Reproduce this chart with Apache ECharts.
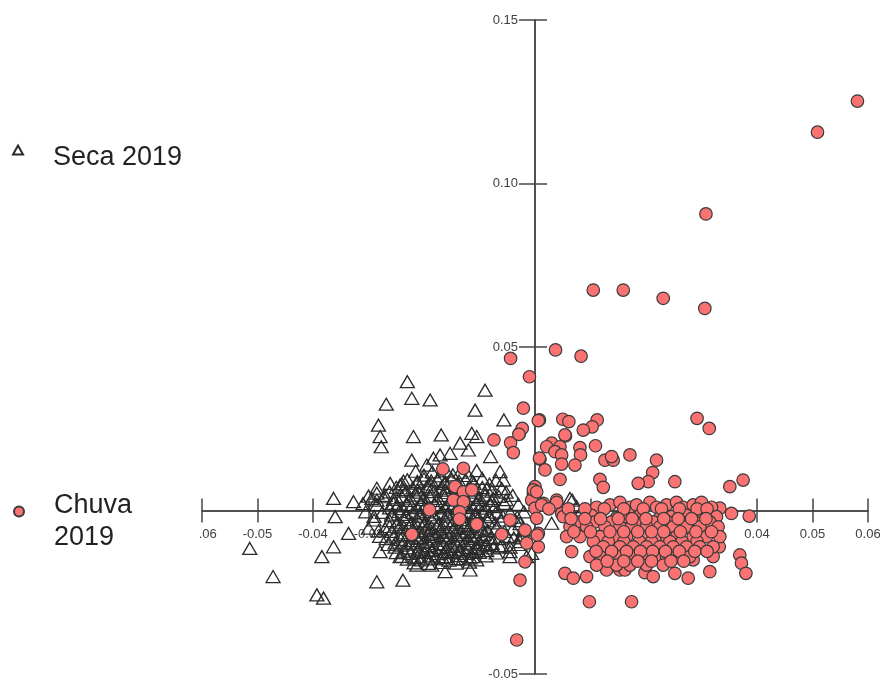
<!DOCTYPE html>
<html>
<head>
<meta charset="utf-8">
<script src="https://cdn.jsdelivr.net/npm/echarts@6/dist/echarts.min.js"></script>
<style>
  html, body { margin: 0; padding: 0; background: #fff; }
  #chart { width: 880px; height: 681px; }
</style>
</head>
<body>
<div id="chart"></div>
<script>
// Axis ranges and tick steps
const xRange = [-0.06, 0.06];
const xStep = 0.01;
const yRange = [-0.05, 0.15];
const yStep = 0.05;

const seriesNames = ['Seca 2019', 'Chuva 2019'];

// Seca 2019: scattered points around the main group
const secaOuter = [
  [-0.0230,0.0394],[-0.0222,0.0343],[-0.0189,0.0338],[-0.0268,0.0325],[-0.0090,0.0368],
  [-0.0108,0.0307],[-0.0056,0.0277],[-0.0282,0.0261],[-0.0279,0.0226],[-0.0277,0.0195],
  [-0.0219,0.0226],[-0.0169,0.0231],[-0.0114,0.0236],[-0.0105,0.0226],[-0.0135,0.0206],
  [-0.0120,0.0185],[-0.0222,0.0154],[-0.0080,0.0165],[-0.0063,0.0119],[-0.0057,0.0093],
  [-0.0183,0.0160],[-0.0171,0.0170],[-0.0153,0.0175],[-0.0195,0.0139],
  [-0.0363,0.0037],[-0.0360,-0.0019],[-0.0327,0.0027],[-0.0384,-0.0141],[-0.0363,-0.0111],
  [-0.0393,-0.0258],[-0.0381,-0.0268],[-0.0336,-0.0070],[-0.0285,-0.0218],[-0.0238,-0.0213],
  [-0.0279,-0.0126],[-0.0243,-0.0141],[-0.0213,-0.0167],[-0.0186,-0.0167],[-0.0162,-0.0187],
  [-0.0117,-0.0182],[-0.0105,-0.0116],[-0.0087,-0.0106],[-0.0063,-0.0111],[-0.0045,-0.0126],
  [-0.0024,-0.0075],[-0.0015,-0.0141],[-0.0006,-0.0131],[-0.0514,-0.0116],[-0.0472,-0.0202],
  [-0.0294,0.0037],[-0.0285,0.0053],[-0.0273,0.0042],[-0.0261,0.0083],[-0.0243,0.0078],
  [0.0063,0.0037],[0.0075,0.0012],[0.0081,-0.0009],[0.0030,-0.0039],[-0.0027,-0.0040],
  [-0.0009,-0.0081],[0.0067,0.0032],[-0.0045,-0.0141],[-0.0021,-0.0060],[-0.0027,-0.0095]
];

// Seca 2019: dense central group
const secaCore = [
  [-0.0215,0.0120],[-0.0185,0.0118],[-0.0160,0.0121],[-0.0135,0.0117],[-0.0105,0.0122],
  [-0.0230,0.0094],[-0.0200,0.0097],[-0.0175,0.0093],[-0.0150,0.0096],[-0.0125,0.0094],[-0.0095,0.0098],[-0.0070,0.0092],
  [-0.0285,0.0068],[-0.0250,0.0071],[-0.0220,0.0069],[-0.0195,0.0072],[-0.0170,0.0068],[-0.0145,0.0071],[-0.0120,0.0069],[-0.0095,0.0070],[-0.0060,0.0067],
  [-0.0300,0.0044],[-0.0270,0.0046],[-0.0240,0.0043],[-0.0215,0.0047],[-0.0190,0.0044],[-0.0165,0.0046],[-0.0140,0.0043],[-0.0115,0.0045],[-0.0090,0.0047],[-0.0065,0.0043],[-0.0040,0.0046],
  [-0.0310,0.0021],[-0.0285,0.0018],[-0.0255,0.0022],[-0.0230,0.0019],[-0.0205,0.0021],[-0.0180,0.0018],[-0.0155,0.0022],[-0.0130,0.0019],[-0.0105,0.0021],[-0.0080,0.0018],[-0.0055,0.0022],[-0.0030,0.0019],
  [-0.0262,0.0008],[-0.0238,0.0006],[-0.0212,0.0009],[-0.0188,0.0007],[-0.0162,0.0008],[-0.0138,0.0006],[-0.0112,0.0009],[-0.0088,0.0007],
  [-0.0305,-0.0004],[-0.0275,-0.0006],[-0.0245,-0.0003],[-0.0220,-0.0006],[-0.0195,-0.0004],[-0.0170,-0.0007],[-0.0145,-0.0004],[-0.0120,-0.0006],[-0.0095,-0.0003],[-0.0070,-0.0005],[-0.0045,-0.0007],[-0.0020,-0.0004],
  [-0.0290,-0.0029],[-0.0262,-0.0031],[-0.0235,-0.0028],[-0.0210,-0.0032],[-0.0185,-0.0029],[-0.0160,-0.0031],[-0.0135,-0.0028],[-0.0110,-0.0030],[-0.0085,-0.0032],[-0.0060,-0.0029],[-0.0035,-0.0031],
  [-0.0250,-0.0042],[-0.0225,-0.0044],[-0.0200,-0.0041],[-0.0175,-0.0043],[-0.0150,-0.0042],[-0.0125,-0.0044],[-0.0100,-0.0041],
  [-0.0300,-0.0054],[-0.0270,-0.0056],[-0.0245,-0.0053],[-0.0220,-0.0057],[-0.0195,-0.0054],[-0.0170,-0.0056],[-0.0145,-0.0053],[-0.0120,-0.0055],[-0.0095,-0.0057],[-0.0070,-0.0054],[-0.0040,-0.0056],
  [-0.0235,-0.0068],[-0.0210,-0.0066],[-0.0185,-0.0069],[-0.0160,-0.0067],[-0.0135,-0.0068],[-0.0110,-0.0066],
  [-0.0280,-0.0079],[-0.0255,-0.0081],[-0.0230,-0.0078],[-0.0205,-0.0082],[-0.0180,-0.0079],[-0.0155,-0.0081],[-0.0130,-0.0078],[-0.0105,-0.0080],[-0.0080,-0.0082],[-0.0050,-0.0079],[-0.0025,-0.0081],
  [-0.0220,-0.0092],[-0.0195,-0.0094],[-0.0170,-0.0091],[-0.0145,-0.0093],[-0.0120,-0.0092],
  [-0.0265,-0.0104],[-0.0240,-0.0106],[-0.0215,-0.0103],[-0.0190,-0.0107],[-0.0165,-0.0104],[-0.0140,-0.0106],[-0.0115,-0.0103],[-0.0090,-0.0105],[-0.0060,-0.0107],[-0.0030,-0.0104],
  [-0.0210,-0.0118],[-0.0185,-0.0120],[-0.0160,-0.0117],[-0.0135,-0.0119],
  [-0.0250,-0.0129],[-0.0225,-0.0131],[-0.0200,-0.0128],[-0.0175,-0.0132],[-0.0150,-0.0129],[-0.0125,-0.0131],[-0.0100,-0.0128],[-0.0070,-0.0130],
  [-0.0230,-0.0149],[-0.0205,-0.0151],[-0.0180,-0.0148],[-0.0155,-0.0152],[-0.0130,-0.0149],[-0.0105,-0.0151]
];

// Seca 2019: further points packed inside the central group
const secaInner = [
  [-0.0200,0.0108],[-0.0172,0.0106],[-0.0148,0.0109],[-0.0120,0.0107],
  [-0.0240,0.0082],[-0.0212,0.0084],[-0.0188,0.0081],[-0.0162,0.0083],[-0.0138,0.0080],[-0.0110,0.0083],[-0.0082,0.0081],
  [-0.0262,0.0057],[-0.0232,0.0059],[-0.0208,0.0056],[-0.0182,0.0058],[-0.0158,0.0055],[-0.0132,0.0058],[-0.0108,0.0056],[-0.0078,0.0059],[-0.0052,0.0056],
  [-0.0285,0.0032],[-0.0255,0.0034],[-0.0228,0.0031],[-0.0202,0.0033],[-0.0178,0.0030],[-0.0152,0.0033],[-0.0128,0.0031],[-0.0102,0.0034],[-0.0078,0.0031],[-0.0052,0.0033],
  [-0.0290,-0.0018],[-0.0258,-0.0016],[-0.0232,-0.0019],[-0.0208,-0.0017],[-0.0182,-0.0020],[-0.0158,-0.0017],[-0.0132,-0.0019],[-0.0108,-0.0016],[-0.0082,-0.0019],[-0.0058,-0.0017],[-0.0032,-0.0020],
  [-0.0282,-0.0062],[-0.0258,-0.0064],[-0.0198,-0.0061],[-0.0172,-0.0063],[-0.0148,-0.0060],[-0.0122,-0.0063],[-0.0085,-0.0061],[-0.0055,-0.0064],
  [-0.0268,-0.0086],[-0.0242,-0.0088],[-0.0212,-0.0085],[-0.0188,-0.0087],[-0.0162,-0.0084],[-0.0138,-0.0087],[-0.0112,-0.0085],[-0.0092,-0.0088],[-0.0065,-0.0086],[-0.0038,-0.0084],
  [-0.0252,-0.0112],[-0.0228,-0.0114],[-0.0198,-0.0111],[-0.0172,-0.0113],[-0.0148,-0.0110],[-0.0122,-0.0113],[-0.0102,-0.0111],[-0.0075,-0.0114],[-0.0045,-0.0112],
  [-0.0240,-0.0140],[-0.0212,-0.0142],[-0.0188,-0.0139],[-0.0162,-0.0141],[-0.0138,-0.0138],[-0.0112,-0.0141],[-0.0088,-0.0139],
  [-0.0218,-0.0160],[-0.0192,-0.0162],[-0.0168,-0.0159],[-0.0142,-0.0161],[-0.0118,-0.0158]
];

// Seca 2019: the darkest, most crowded part of the group
const secaDense = [
  [-0.0237,0.0090],[-0.0212,0.0089],[-0.0187,0.0091],[-0.0162,0.0088],[-0.0137,0.0090],[-0.0112,0.0089],
  [-0.0237,0.0064],[-0.0212,0.0063],[-0.0187,0.0065],[-0.0162,0.0062],[-0.0137,0.0064],[-0.0112,0.0063],[-0.0087,0.0065],
  [-0.0250,0.0039],[-0.0225,0.0038],[-0.0200,0.0040],[-0.0175,0.0037],[-0.0150,0.0039],[-0.0125,0.0038],[-0.0100,0.0040],[-0.0075,0.0037],
  [-0.0248,0.0014],[-0.0222,0.0013],[-0.0197,0.0015],[-0.0172,0.0012],[-0.0147,0.0014],[-0.0122,0.0013],[-0.0097,0.0015],[-0.0072,0.0012],
  [-0.0258,-0.0011],[-0.0233,-0.0012],[-0.0208,-0.0010],[-0.0183,-0.0013],[-0.0158,-0.0011],[-0.0133,-0.0012],[-0.0108,-0.0010],[-0.0083,-0.0013],
  [-0.0247,-0.0036],[-0.0222,-0.0037],[-0.0197,-0.0035],[-0.0172,-0.0038],[-0.0147,-0.0036],[-0.0122,-0.0037],[-0.0097,-0.0035],[-0.0072,-0.0038],
  [-0.0262,-0.0049],[-0.0237,-0.0050],[-0.0212,-0.0048],[-0.0187,-0.0051],[-0.0162,-0.0049],[-0.0137,-0.0050],[-0.0112,-0.0048],
  [-0.0242,-0.0074],[-0.0217,-0.0075],[-0.0192,-0.0073],[-0.0167,-0.0076],[-0.0142,-0.0074],[-0.0117,-0.0075],[-0.0092,-0.0073],
  [-0.0252,-0.0099],[-0.0227,-0.0100],[-0.0202,-0.0098],[-0.0177,-0.0101],[-0.0152,-0.0099],[-0.0127,-0.0100],[-0.0102,-0.0098],[-0.0077,-0.0101],
  [-0.0237,-0.0124],[-0.0212,-0.0125],[-0.0187,-0.0123],[-0.0162,-0.0126],[-0.0137,-0.0124],[-0.0112,-0.0125],[-0.0087,-0.0123],
  [-0.0217,-0.0145],[-0.0192,-0.0146],[-0.0167,-0.0144],[-0.0142,-0.0147],[-0.0117,-0.0145]
];

// Chuva 2019: upper and scattered points
const chuvaOuter = [
  [0.0581,0.1252],[0.0509,0.1157],[0.0308,0.0907],[0.0105,0.0674],[0.0159,0.0674],
  [0.0231,0.0649],[0.0306,0.0618],[0.0037,0.0491],[0.0083,0.0472],[-0.0044,0.0465],
  [-0.0010,0.0409],[-0.0021,0.0313],[0.0292,0.0282],[0.0314,0.0251],[0.0008,0.0277],
  [0.0050,0.0279],[0.0061,0.0272],[0.0112,0.0277],[0.0103,0.0256],[0.0087,0.0246],
  [0.0055,0.0228],[-0.0074,0.0216],[-0.0028,0.0236],[-0.0023,0.0251],[-0.0044,0.0207],
  [-0.0039,0.0177],[0.0109,0.0198],[0.0081,0.0192],[0.0030,0.0206],[0.0021,0.0195],
  [0.0045,0.0195],[0.0054,0.0231],[0.0036,0.0180],[0.0048,0.0170],[0.0082,0.0170],
  [0.0009,0.0157],[0.0018,0.0124],[0.0048,0.0142],[0.0072,0.0139],[0.0126,0.0154],
  [0.0141,0.0154],[0.0138,0.0165],[0.0171,0.0170],[0.0219,0.0154],[0.0212,0.0116],
  [0.0204,0.0088],[0.0186,0.0083],[0.0252,0.0088],[0.0117,0.0095],[0.0123,0.0071],
  [0.0045,0.0095],[0.0000,0.0073],[-0.0003,0.0053],[-0.0006,0.0032],[0.0351,0.0073],
  [0.0375,0.0093],[0.0015,0.0022],[0.0039,0.0032],[0.0048,-0.0009],[0.0354,-0.0009],
  [0.0386,-0.0017],[0.0333,0.0007],[0.0006,-0.0111],[-0.0018,-0.0157],[-0.0027,-0.0213],
  [0.0066,-0.0126],[0.0054,-0.0192],[0.0069,-0.0207],[0.0093,-0.0202],[0.0129,-0.0182],
  [0.0153,-0.0182],[0.0162,-0.0182],[0.0198,-0.0190],[0.0213,-0.0202],[0.0252,-0.0192],
  [0.0276,-0.0207],[0.0315,-0.0187],[0.0285,-0.0151],[0.0369,-0.0136],[0.0372,-0.0161],
  [0.0380,-0.0192],[0.0332,-0.0111],[0.0321,-0.0141],[0.0098,-0.0279],[0.0174,-0.0279],
  [-0.0033,-0.0396],
  [-0.0003,0.0063],[-0.0018,-0.0060],[0.0006,-0.0070],[-0.0015,-0.0100],
  [-0.0029,0.0233],[-0.0129,0.0129],[-0.0166,0.0127],[-0.0144,0.0073],[-0.0129,0.0057],
  [-0.0114,0.0063],[-0.0147,0.0032],[-0.0129,0.0027],[-0.0190,0.0002],[-0.0136,-0.0004],
  [-0.0136,-0.0026],[-0.0105,-0.0042],[-0.0045,-0.0029],[-0.0060,-0.0073],[-0.0222,-0.0073],
  [0.0003,0.0057],[0.0000,0.0007],[0.0003,-0.0024],[0.0004,-0.0075],[0.0008,0.0160],[0.0006,0.0275]
];

// Chuva 2019: dense band right of the origin
const chuvaBand = [
  [0.0012,0.0017],[0.0039,0.0025],[0.0111,0.0010],[0.0135,0.0017],[0.0153,0.0025],[0.0171,0.0010],[0.0183,0.0017],[0.0207,0.0025],
  [0.0219,0.0010],[0.0237,0.0017],[0.0255,0.0025],[0.0267,0.0010],[0.0285,0.0017],[0.0300,0.0025],[0.0318,0.0010],
  [0.0051,-0.0019],[0.0102,-0.0015],[0.0147,-0.0022],[0.0162,-0.0019],[0.0189,-0.0015],[0.0225,-0.0022],[0.0246,-0.0019],[0.0273,-0.0015],[0.0297,-0.0022],[0.0327,-0.0019],
  [0.0075,-0.0035],[0.0108,-0.0035],[0.0138,-0.0035],[0.0180,-0.0035],[0.0213,-0.0035],[0.0240,-0.0035],[0.0262,-0.0035],[0.0288,-0.0035],[0.0315,-0.0035],
  [0.0063,-0.0050],[0.0093,-0.0050],[0.0126,-0.0050],[0.0153,-0.0050],[0.0174,-0.0050],[0.0201,-0.0050],[0.0225,-0.0050],[0.0249,-0.0050],[0.0273,-0.0050],[0.0297,-0.0050],[0.0330,-0.0050],
  [0.0057,-0.0080],[0.0081,-0.0080],[0.0117,-0.0080],[0.0147,-0.0080],[0.0165,-0.0080],[0.0195,-0.0080],[0.0219,-0.0080],[0.0237,-0.0080],[0.0255,-0.0080],[0.0285,-0.0080],[0.0309,-0.0080],[0.0333,-0.0080],
  [0.0105,-0.0095],[0.0132,-0.0095],[0.0160,-0.0095],[0.0188,-0.0095],[0.0210,-0.0095],[0.0243,-0.0095],[0.0265,-0.0095],[0.0292,-0.0095],
  [0.0123,-0.0111],[0.0153,-0.0111],[0.0177,-0.0111],[0.0201,-0.0111],[0.0225,-0.0111],[0.0249,-0.0111],[0.0273,-0.0111],[0.0297,-0.0111],[0.0321,-0.0111],
  [0.0099,-0.0141],[0.0117,-0.0141],[0.0153,-0.0141],[0.0177,-0.0141],[0.0195,-0.0141],[0.0219,-0.0141],[0.0237,-0.0141],[0.0255,-0.0141],[0.0279,-0.0141],
  [0.0111,-0.0167],[0.0147,-0.0167],[0.0171,-0.0167],[0.0201,-0.0167],[0.0231,-0.0167],
  [0.0025,0.0005],[0.0060,0.0005],[0.0090,0.0005],[0.0125,0.0005],[0.0160,0.0005],[0.0195,0.0005],[0.0228,0.0005],[0.0260,0.0005],[0.0292,0.0005],[0.0310,0.0005],
  [0.0065,-0.0025],[0.0090,-0.0025],[0.0118,-0.0025],[0.0150,-0.0025],[0.0175,-0.0025],[0.0200,-0.0025],[0.0232,-0.0025],[0.0258,-0.0025],[0.0282,-0.0025],[0.0308,-0.0025],
  [0.0070,-0.0065],[0.0100,-0.0065],[0.0135,-0.0065],[0.0160,-0.0065],[0.0185,-0.0065],[0.0210,-0.0065],[0.0232,-0.0065],[0.0262,-0.0065],[0.0290,-0.0065],[0.0318,-0.0065],
  [0.0110,-0.0125],[0.0138,-0.0125],[0.0165,-0.0125],[0.0190,-0.0125],[0.0212,-0.0125],[0.0235,-0.0125],[0.0260,-0.0125],[0.0288,-0.0125],[0.0310,-0.0125],
  [0.0130,-0.0155],[0.0160,-0.0155],[0.0185,-0.0155],[0.0210,-0.0155],[0.0245,-0.0155],[0.0268,-0.0155]
];

const tickFont = "'Liberation Sans', Arial, sans-serif";
const legendFont = "'Liberation Sans', Arial, sans-serif";
const axisColor = '#454545';

function fmt(v) {
  return Math.abs(v) < 1e-9 ? '' : v.toFixed(2);
}

// Axes cross at the origin: each axis is shifted from the plot edge by an offset,
// with a paired axis on the opposite side so the ticks cross the line.
function valueAxis(range, step, position, offset, showLabels, tickLen, margin) {
  return {
    type: 'value',
    min: range[0],
    max: range[1],
    interval: step,
    position: position,
    offset: offset,
    axisLine: { show: true, onZero: false, lineStyle: { color: axisColor, width: 1.5 } },
    axisTick: { show: true, length: tickLen, lineStyle: { color: axisColor, width: 1.5 } },
    axisLabel: {
      show: showLabels, margin: margin, formatter: fmt,
      fontFamily: tickFont, fontSize: 13, color: '#404040'
    },
    splitLine: { show: false }
  };
}

// plot box: x from 202 to 868 px, y from 20 to 674 px; origin at (535, 510.5)
const chart = echarts.init(document.getElementById('chart'), null, { renderer: 'canvas' });

chart.setOption({
  animation: false,
  backgroundColor: '#ffffff',
  grid: { left: 202, right: 12, top: 20, bottom: 7, containLabel: false, outerBoundsMode: 'none' },
  xAxis: [
    valueAxis(xRange, xStep, 'bottom', -163.5, true, 12, 17),
    valueAxis(xRange, xStep, 'top', -490.5, false, 12, 8)
  ],
  yAxis: [
    valueAxis(yRange, yStep, 'left', -333, true, 16, 17),
    valueAxis(yRange, yStep, 'right', -333, false, 12, 8)
  ],
  legend: [
    {
      data: [{ name: seriesNames[0], icon: 'path://M0,9 L5,0 L10,9 Z M5,25 L5,25' }],
      left: 12, top: 143, padding: 0,
      orient: 'vertical', selectedMode: false,
      itemWidth: 10, itemHeight: 25,
      textStyle: {
        fontFamily: legendFont, fontSize: 27,
        color: '#222', lineHeight: 30, padding: [0, 0, 0, 25]
      }
    },
    {
      data: [{ name: seriesNames[1], icon: 'path://M0,5 A5,5 0 1,1 10,5 A5,5 0 1,1 0,5 Z M5,31 L5,31' }],
      left: 13, top: 490, padding: 0,
      orient: 'vertical', selectedMode: false,
      itemWidth: 10, itemHeight: 31,
      formatter: name => name.replace(' ', '\n'),
      textStyle: {
        fontFamily: legendFont, fontSize: 27,
        color: '#222', lineHeight: 32, padding: [0, 0, 0, 25]
      }
    }
  ],
  graphic: [
    // page margin left of the plot area trims the first tick label
    { type: 'rect', left: 168, top: 520, shape: { width: 32, height: 26 }, style: { fill: '#fff' }, z: 100 }
  ],
  series: [
    {
      name: seriesNames[0],
      type: 'scatter',
      xAxisIndex: 0, yAxisIndex: 0,
      symbol: 'triangle',
      symbolSize: [14, 12],
      // hollow outlines: overlapping triangles build up into a dark mass
      itemStyle: { color: 'rgba(255,255,255,0)', borderColor: '#2b2b2b', borderWidth: 1.3, opacity: 1 },
      data: secaOuter.concat(secaCore, secaInner, secaDense),
      z: 2
    },
    {
      name: seriesNames[1],
      type: 'scatter',
      xAxisIndex: 0, yAxisIndex: 0,
      symbol: 'circle',
      symbolSize: 12.5,
      itemStyle: { color: '#fb7272', borderColor: '#3a3a3a', borderWidth: 1.2, opacity: 1 },
      data: chuvaOuter.concat(chuvaBand),
      z: 3
    }
  ]
});
</script>
</body>
</html>
